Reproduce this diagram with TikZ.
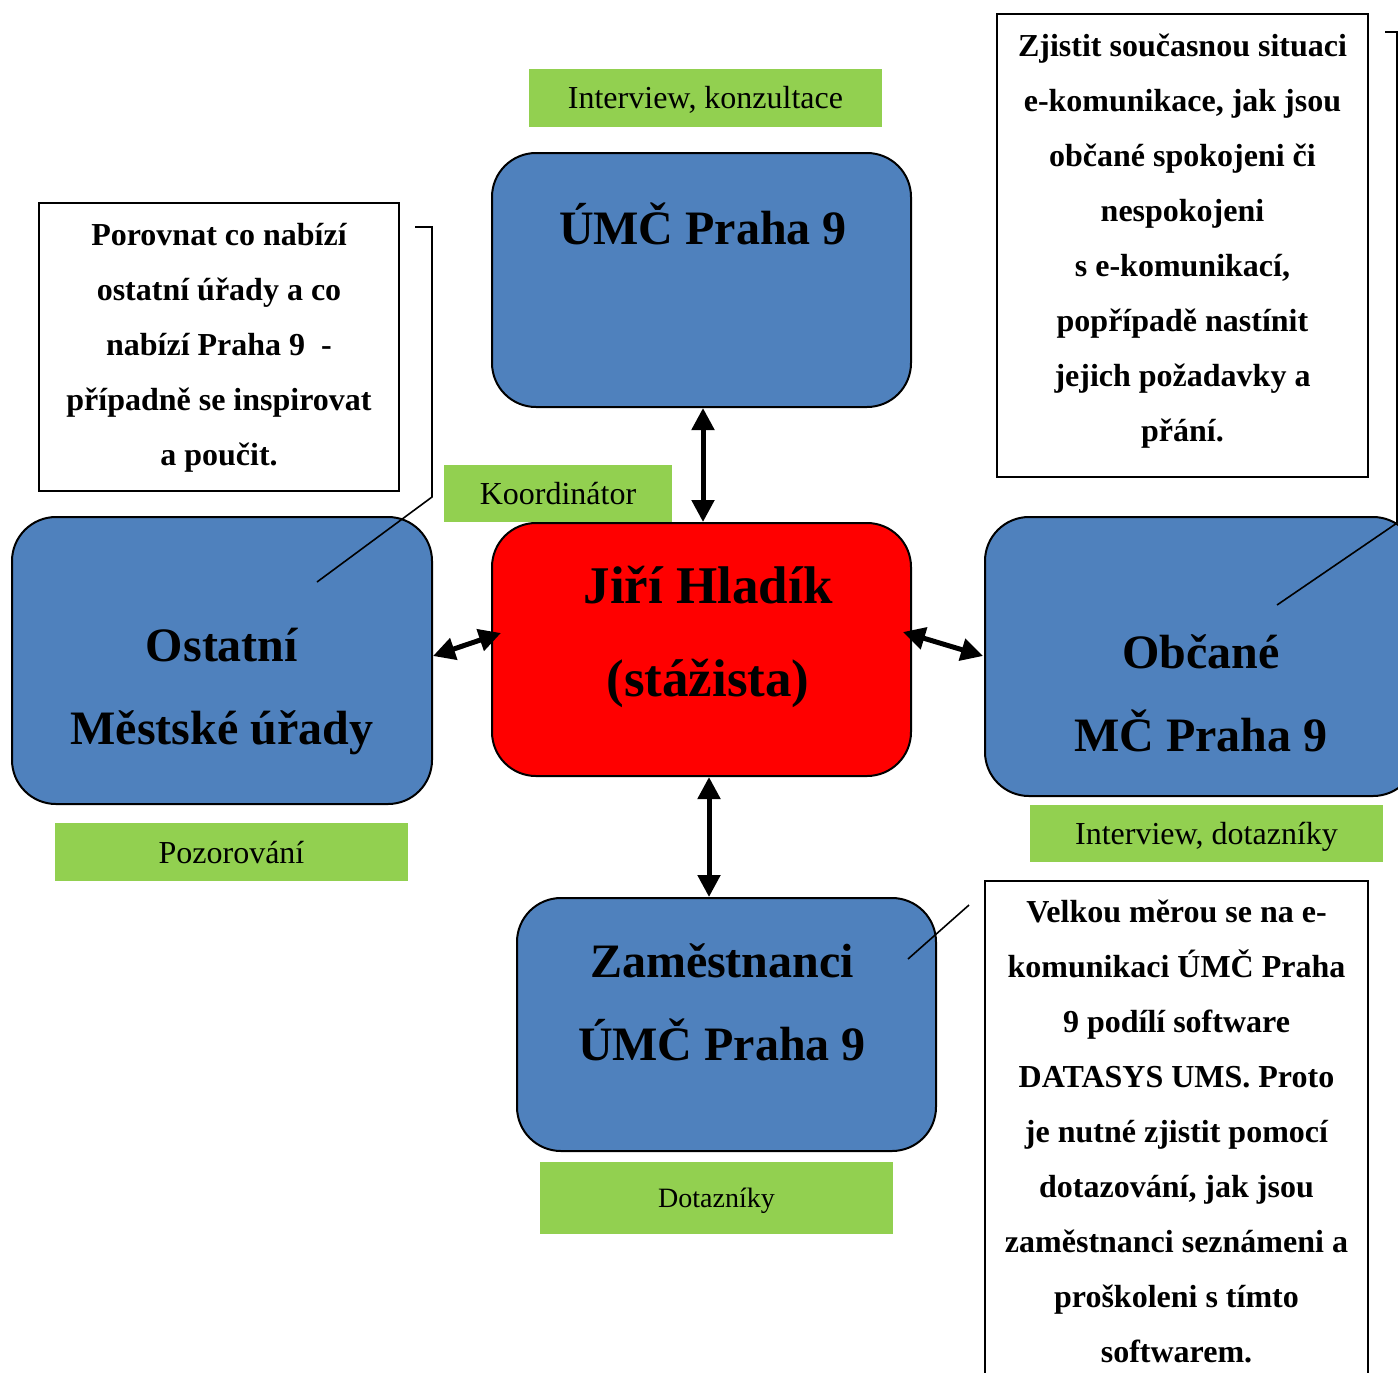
\documentclass[tikz,border=0pt]{standalone}
\usepackage{fontspec}
\setmainfont{Liberation Serif}
\usetikzlibrary{arrows.meta}
\definecolor{boxblue}{HTML}{4F81BD}
\definecolor{labgreen}{HTML}{92D050}
\definecolor{boxred}{HTML}{FF0000}
\tikzset{
  bluebox/.style={draw=black, line width=1pt, fill=boxblue, rounded corners=22pt, inner sep=0pt},
  redbox/.style={draw=black, line width=1pt, fill=boxred, rounded corners=22pt, inner sep=0pt},
  greenlab/.style={fill=labgreen, inner sep=0pt, text depth=0pt, font=\fontsize{16}{19}\selectfont},
  notebox/.style={draw=black, line width=0.8pt, fill=white, inner sep=0pt},
  notetext/.style={align=center, font=\fontsize{16}{27.5}\bfseries\selectfont, inner sep=0pt},
  bigtext/.style={align=center, font=\fontsize{24}{41.5}\bfseries\selectfont, inner sep=0pt},
  redtext/.style={align=center, font=\fontsize{26.5}{46.5}\bfseries\selectfont, inner sep=0pt},
  dblarrow/.style={line width=2.5pt, {Triangle[length=11pt,width=11pt]}-{Triangle[length=11pt,width=11pt]}},
  callout/.style={draw=black, line width=0.8pt}
}
\begin{document}
\begin{tikzpicture}[x=0.5pt, y=-0.5pt]
\useasboundingbox (0,0) rectangle (1398,1372);
% blue and red boxes
\node[bluebox, minimum width=209.5pt, minimum height=127pt] (umc) at (701.5,280) {};
\node[bluebox, minimum width=210pt, minimum height=143.5pt] (ost) at (222,660.5) {};
\node[bluebox, minimum width=216pt, minimum height=139.5pt] (obc) at (1201,656.5) {};
\node[bluebox, minimum width=209.5pt, minimum height=126.5pt] (zam) at (726.5,1024.5) {};
\node[redbox, minimum width=209.5pt, minimum height=126.5pt] (red) at (701.5,649.5) {};
% box texts
\node[bigtext] (umct) at (703,224) {ÚMČ Praha 9};
\node[bigtext] (ostt) at (222,691) {Ostatní\\Městské úřady};
\node[bigtext] (obct) at (1201,693.5) {Občané\\MČ Praha 9};
\node[bigtext] (zamt) at (722,1002.5) {Zaměstnanci\\ÚMČ Praha 9};
\node[redtext] (redt) at (708,636.5) {Jiří Hladík\\(stážista)};
% green labels
\node[greenlab, minimum width=176.5pt, minimum height=29pt] (g1) at (705.5,97.5) {Interview, konzultace};
\node[greenlab, minimum width=114pt, minimum height=28.5pt] (g2) at (558,493.5) {Koordinátor};
\node[greenlab, minimum width=176.5pt, minimum height=29pt] (g3) at (231.5,852) {Pozorování};
\node[greenlab, minimum width=176.5pt, minimum height=28.5pt] (g4) at (1206.5,833.5) {Interview, dotazníky};
\node[greenlab, minimum width=176.5pt, minimum height=36pt, font=\fontsize{14}{17}\selectfont] (g5) at (716.5,1198) {Dotazníky};
% notes
\node[notebox, minimum width=180pt, minimum height=144pt] (n1) at (219,347) {};
\node[notetext] (n1t) at (219,347.5) {Porovnat co nabízí\\ostatní úřady a co\\nabízí Praha 9~~-\\případně se inspirovat\\a poučit.};
\node[notebox, minimum width=185.5pt, minimum height=231.5pt] (n2) at (1182.5,245.5) {};
\node[notetext] (n2t) at (1182.5,241) {Zjistit současnou situaci\\e-komunikace, jak jsou\\občané spokojeni či\\nespokojeni\\s e-komunikací,\\popřípadě nastínit\\jejich požadavky a\\přání.};
\node[notebox, minimum width=191.5pt, minimum height=260pt] (n3) at (1176.5,1141) {};
\node[notetext] (n3t) at (1176.5,1131.5) {Velkou měrou se na e-\\komunikaci ÚMČ Praha\\9 podílí software\\DATASYS UMS. Proto\\je nutné zjistit pomocí\\dotazování, jak jsou\\zaměstnanci seznámeni a\\proškoleni s tímto\\softwarem.};
% callout lines
\coordinate (c1a) at (415,227);
\coordinate (c1b) at (432,227);
\coordinate (c1c) at (432,497);
\coordinate (c1d) at (317,582);
\draw[callout] (c1a) -- (c1b) -- (c1c) -- (c1d);
\coordinate (c2a) at (1385,32);
\coordinate (c2b) at (1397,32);
\coordinate (c2c) at (1397,523);
\coordinate (c2d) at (1277,605);
\draw[callout] (c2a) -- (c2b) -- (c2c) -- (c2d);
\coordinate (c3a) at (969,905);
\coordinate (c3b) at (908,959);
\draw[callout] (c3a) -- (c3b);
% arrows
\draw[dblarrow] (umc.south -| 703,0) -- (red.north -| 703,0);
\draw[dblarrow] (709,777) -- (zam.north -| 709,0);
\draw[dblarrow] (433,656) -- (501,633);
\draw[dblarrow] (903,632) -- (983,656);
\end{tikzpicture}
\end{document}
